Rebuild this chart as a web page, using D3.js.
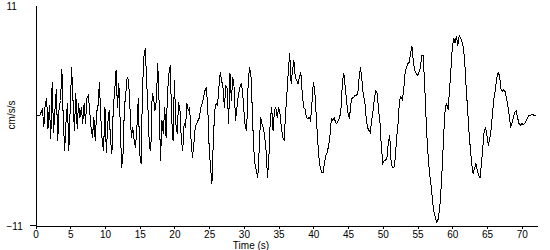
<!DOCTYPE html>
<html>
<head>
<meta charset="utf-8">
<script src="https://cdn.jsdelivr.net/npm/d3@7"></script>
<style>
  body { margin: 0; background: #fff; }
  svg { display: block; }
  text { font-family: "Liberation Sans", Arial, sans-serif; font-size: 10px; fill: #000; }
</style>
</head>
<body>
<svg width="550" height="250"></svg>
<script>
const chart = d3.select("svg");

// seconds between samples of the record
const SAMPLE_STEP = 0.2;

// ground acceleration, cm/s/s, one value per sample
const accel = [
   0, 0, 0, 0, 0.3, 0.6, -1.1, 1.2, 1.7, -1.3,
   1.0, -2.3, 3.3, -1.7, 0.5, 2.6, -2.5, 0.8, 1.5, 4.6,
  -0.5, -3.5, -0.5, 1.2, -3.5, 0.8, 4.8, 1.5, -1.5, 2.2,
  -1.3, 1.2, -0.2, 0.8, -0.8, 1.2, -0.8, 1.7, 2.0, 0.5,
  -1.2, -2.2, -0.2, -2.5, 0.3, 1.0, 3.3, -0.2, -2.5, -3.5,
   0.8, -3.7, -0.8, 0.5, -2.5, -3.8, 0.8, 2.5, 4.5, 0.8,
   3.2, -0.8, -5.2, -3.8,
   0.8, 2.2, 3.8, 3.5, 0.8, -2.2, -1.2, -2.5, -3.2, -1.2,
   1.7, -3.8, -4.8, 2.5, 5.8, 6.7, 3.5, 0.5, -3.2, -3.5,
   2.2, 1.8, 0.5, 1.5, 5.2, 1.2, -4.5, -0.5, -1.8, 0.8,
  -2.2, 2.2, 4.2, 5.0, -0.2, -2.5, 3.5, -0.8, -1.8, 1.3,
   0.5, -2.5, -3.5, -0.8, -1.2, 1.2, 0.5, 0.8, -2.5, -4.2,
  -2.8, -1.2, -0.8, -0.5, -0.2, 0.8, 1.2, 1.8, 2.5, 2.8,
   0.8, -3.2, -5.2,
  -6.8, -2.5, 0.5, 1.2, 1.0, 2.8, 4.3, 3.5, 2.7, 0.8,
   3.0, 2.7, -0.8, 4.2, 1.5, 3.8, 2.8, -0.5, 0.8, 2.0,
   2.7, 3.2, 2.5, 0.5, -1.2, -1.5, 2.8, 4.8, 4.3, 0.8,
  -3.2, -4.8, -5.5, -6.2, -3.5, -0.2, -0.8, -1.2, -2.2, -3.5,
  -6.2, -4.2, -0.5, 0.8, -1.5, 0.5, 0.8, -0.2, 0.8, 0.2,
  -1.2, -2.2, -2.5, 0.2, 2.2, 4.5, 6.2, 3.2, 4.5, 5.5,
   3.8,
   3.5, 3.2, 3.8, 4.3, 2.2, 0.8, 0.7, -0.2, -0.3, -0.2,
  -0.5, 1.2, 3.3, 2.5, 0.2, -2.2, -4.2, -5.2, -5.7, -5.7,
  -4.8, -4.0, -3.7, -3.0, -2.0, -0.3, -0.5, -0.2, -0.7, -0.8,
  -0.5, -0.2, 0.8, 3.5, 4.2, 2.8, 1.3, 0.2, -0.3, 1.2,
   1.8, 1.8, 2.0, 2.0, 2.2, 3.8, 4.8, 3.5, 2.0, 1.5,
  -0.2, -1.2, -1.5, -1.7, -0.5, 0.5, 1.8, 2.5, 2.2, 0.5,
  -0.8,
  -3.2, -4.8, -4.5, -4.5, -4.2, -2.7, -2.0, -4.7, -5.2, -5.2,
  -4.2, -2.2, -0.8, 1.5, 1.9, 1.6, 2.5, 4.2, 4.8, 5.2,
   5.3, 6.2, 6.9, 5.3, 4.5, 4.2, 4.0, 4.3, 4.7, 6.0,
   6.0, 3.5, 0.2, -2.8, -4.8, -6.2, -7.3, -8.8, -9.8, -10.3,
  -10.7, -10.3, -9.2, -7.2, -4.5, -1.5, 0.8, 1.2, 0.6, 2.5,
   4.5, 6.7, 7.7, 7.3, 7.9, 7.0, 8.0, 7.8, 7.4, 6.8,
   5.3,
   2.8, 0.7, -1.5, -3.3, -4.8, -5.8, -5.3, -4.8, -5.5, -6.0,
  -6.2, -4.8, -3.2, -1.5, -1.2, -2.0, -3.0, -2.3, -1.3, 0.3,
   1.7, 2.6, 3.7, 4.3, 4.0, 2.7, 2.4, 2.6, 2.4, 1.7,
   1.0, 0.0, -1.1, -0.8, -0.2, 0.3, 0.5, -0.2, -0.8, -1.0,
  -0.8, -0.9, -0.8, -0.6, -0.3, 0.0, 0.0, 0.1, 0.1, 0.0,
   0.0
];

const timeTicks = [0, 5, 10, 15, 20, 25, 30, 35, 40, 45, 50, 55, 60, 65, 70];
const ampTicks = [-11, 11];
const X_TITLE = "Time (s)";
const Y_TITLE = "cm/s/s";

const xScale = d3.scaleLinear()
                 .domain([0, 72.2])
                 .range([35.5, 537]);

const yScale = d3.scaleLinear()
                 .domain([-11, 11])
                 .range([225.5, 5.5]);

// x axis
const xAxis = chart.append("g")
                   .attr("transform", `translate(0, ${yScale(-11)})`)
                   .call(d3.axisBottom(xScale)
                           .tickValues(timeTicks)
                           .tickSize(3)
                           .tickSizeOuter(0)
                           .tickPadding(2));

// y axis, labels only at the ends
const yAxis = chart.append("g")
                   .attr("transform", `translate(${xScale(0)}, 0)`)
                   .call(d3.axisLeft(yScale)
                           .tickValues(ampTicks)
                           .tickSize(0)
                           .tickSizeOuter(0)
                           .tickFormat(d3.format("d")));

yAxis.selectAll(".tick text")
     .attr("text-anchor", "start")
     .attr("x", -29)
     .attr("dy", "0.35em");

// little stub of the time axis left of the y axis
chart.append("line")
     .attr("x1", xScale(0) - 6)
     .attr("x2", xScale(0))
     .attr("y1", yScale(-11))
     .attr("y2", yScale(-11))
     .attr("stroke", "#000");

chart.selectAll(".domain, .tick line, line")
     .attr("stroke", "#000")
     .attr("shape-rendering", "crispEdges");

chart.selectAll(".tick text")
     .style("font-family", "'Liberation Sans', Arial, sans-serif")
     .style("font-size", "10px");

// the record
const genLine = d3.line()
                  .x((d, i) => xScale(i * SAMPLE_STEP))
                  .y((d) => yScale(d));

chart.append("path")
     .datum(accel)
     .attr("d", genLine)
     .attr("fill", "none")
     .attr("stroke", "#000")
     .attr("stroke-width", 1)
     .attr("shape-rendering", "crispEdges");

// titles
chart.append("text")
     .attr("x", 251)
     .attr("y", 248.5)
     .attr("text-anchor", "middle")
     .text(X_TITLE);

chart.append("text")
     .attr("transform", "translate(15, 115) rotate(-90)")
     .attr("text-anchor", "middle")
     .text(Y_TITLE);
</script>
</body>
</html>
